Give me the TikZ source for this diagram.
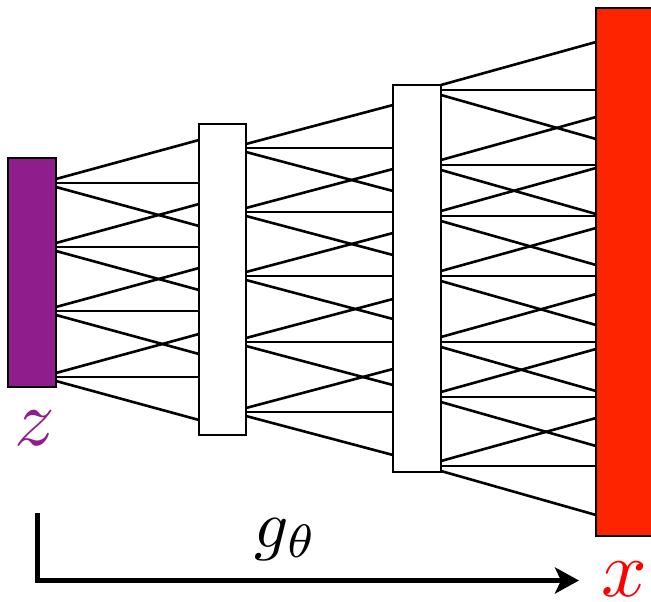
\documentclass[tikz,border=0pt]{standalone}
\usetikzlibrary{arrows.meta}
\definecolor{zpurple}{RGB}{143,30,140}
\definecolor{xred}{RGB}{255,36,0}
\begin{document}
\begin{tikzpicture}[x=1pt,y=-1pt,
  bar/.style={draw=black,line width=2.6pt,inner sep=0pt,outer sep=0pt},
  wire/.style={draw=black,line width=2.6pt},
  lbl/.style={inner sep=0pt,outer sep=0pt,anchor=base},
  flow/.style={line width=4.8pt,-{Stealth[length=24pt,width=26pt,inset=6pt]}}]
\useasboundingbox (0,0) rectangle (651,602);
\fill[white] (0,0) rectangle (651,602);

% layers: latent code, two hidden layers, output
\node[bar,fill=zpurple,minimum width=48,minimum height=229] (z) at (32,272.5) {};
\node[bar,fill=white,minimum width=47,minimum height=311] (h1) at (222.5,279.5) {};
\node[bar,fill=white,minimum width=48,minimum height=387] (h2) at (417,278.5) {};
\node[bar,fill=xred,minimum width=56,minimum height=528] (x) at (624,272) {};

% fan-out connections: each source point feeds up, straight and down
\foreach \h in {183,247,311,377}{
  \draw[wire] (z.east |- 0,\h-4) -- (h1.west |- 0,\h-43);
  \draw[wire] (z.east |- 0,\h) -- (h1.west |- 0,\h);
  \draw[wire] (z.east |- 0,\h+4) -- (h1.west |- 0,\h+43);
}
\foreach \h in {148,212,276,342,412}{
  \draw[wire] (h1.east |- 0,\h-4) -- (h2.west |- 0,\h-43);
  \draw[wire] (h1.east |- 0,\h) -- (h2.west |- 0,\h);
  \draw[wire] (h1.east |- 0,\h+4) -- (h2.west |- 0,\h+43);
}
\foreach \h in {90,165,216,276,342,397,466}{
  \draw[wire] (h2.east |- 0,\h-5) -- (x.west |- 0,\h-48);
  \draw[wire] (h2.east |- 0,\h) -- (x.west |- 0,\h);
  \draw[wire] (h2.east |- 0,\h+5) -- (x.west |- 0,\h+49);
}

% labels
\node[lbl,text=zpurple,scale=8] (zl) at (35,445) {$z$};
\node[lbl,text=red,scale=8] (xl) at (624,596) {$x$};
\node[lbl,scale=6.7] (gl) at (286,547) {$g_\theta$};

% generator direction arrow
\coordinate (a0) at (37.5,513);
\coordinate (a1) at (37.5,580.5);
\coordinate (a2) at (579,580.5);
\draw[flow] (a0) -- (a1) -- (a2);
\end{tikzpicture}
\end{document}
